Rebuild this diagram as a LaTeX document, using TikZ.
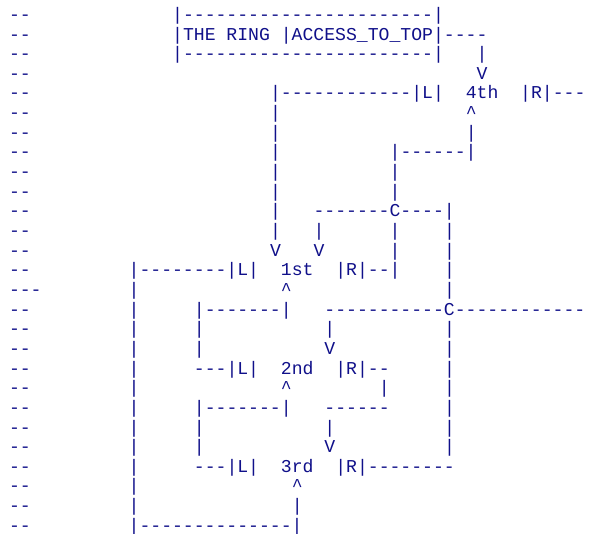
\documentclass[tikz,border=0pt]{standalone}
\usepackage{fontspec}
\setmonofont{Liberation Mono}
\definecolor{ink}{HTML}{10108A}
\definecolor{paper}{HTML}{FFFFFF}

\begin{document}
\begin{tikzpicture}[
    x=8.156pt, y=-14.7375pt,
    every node/.style={font=\ttfamily\fontsize{13.59pt}{14.74pt}\selectfont},
    art/.style={anchor=base west, inner sep=0pt, outer sep=0pt, text=ink},
]
\useasboundingbox[fill=paper] (0,0) rectangle (54.16,27.125);

\begin{scope}[shift={(0.828,0.036)}]
% ================================================================ margin
\foreach \r in {1,...,27}{
    \ifnum\r=15\relax
        \node[art] (dash\r) at (0,\r) {---};
    \else
        \node[art] (dash\r) at (0,\r) {--};
    \fi
}

% ================================================================ the ring box
\node[art] (ringtop) at (15,1) {|-----------------------|};
\node[art] (ring)    at (15,2) {|THE RING |ACCESS\_TO\_TOP|----};
\node[art] (ringbot) at (15,3) {|-----------------------|};
\node[art] (down4a)  at (43,3) {|};
\node[art] (down4b)  at (43,4) {V};

% ================================================================ 4th
\node[art] (l4)   at (24,5) {|------------|L|};
\node[art] (n4)   at (42,5) {4th};
\node[art] (r4)   at (47,5) {|R|---};
\node[art] (up4)  at (42,6) {\textasciicircum};
\node[art] (up4b) at (42,7) {|};
\node[art] (c4)   at (35,8) {|------|};
\foreach \r in {6,...,12}{
    \node[art] (left4\r) at (24,\r) {|};
}
\foreach \r in {9,10,12,13}{
    \node[art] (mid\r) at (35,\r) {|};
}
\node[art] (c1)    at (28,11) {-------C----|};
\node[art] (drop1) at (28,12) {|};
\node[art] (vl1)   at (24,13) {V};
\node[art] (vr1)   at (28,13) {V};

% ================================================================ 1st
\node[art] (l1)  at (11,14) {|--------|L|};
\node[art] (n1)  at (25,14) {1st};
\node[art] (r1)  at (30,14) {|R|--|};
\node[art] (up1) at (25,15) {\textasciicircum};
\foreach \r in {12,13,14,15,17,18,19,20,21,22,23}{
    \node[art] (right\r) at (40,\r) {|};
}
\node[art] (c2)    at (17,16) {|-------|};
\node[art] (cross) at (29,16) {-----------C------------};

% ================================================================ 2nd
\foreach \r in {17,18,22,23}{
    \node[art] (inner\r) at (17,\r) {|};
}
\node[art] (drop2) at (29,17) {|};
\node[art] (v2)    at (29,18) {V};
\node[art] (l2)    at (17,19) {---|L|};
\node[art] (n2)    at (25,19) {2nd};
\node[art] (r2)    at (30,19) {|R|--};
\node[art] (up2)   at (25,20) {\textasciicircum};
\node[art] (out2)  at (34,20) {|};
\node[art] (c3)    at (17,21) {|-------|};
\node[art] (bar3)  at (29,21) {------};

% ================================================================ 3rd
\node[art] (drop3) at (29,22) {|};
\node[art] (v3)    at (29,23) {V};
\node[art] (l3)    at (17,24) {---|L|};
\node[art] (n3)    at (25,24) {3rd};
\node[art] (r3)    at (30,24) {|R|--------};
\node[art] (up3)   at (26,25) {\textasciicircum};
\node[art] (up3b)  at (26,26) {|};
\foreach \r in {15,...,26}{
    \node[art] (outer\r) at (11,\r) {|};
}
\node[art] (loop) at (11,27) {|--------------|};
\end{scope}

\end{tikzpicture}
\end{document}
